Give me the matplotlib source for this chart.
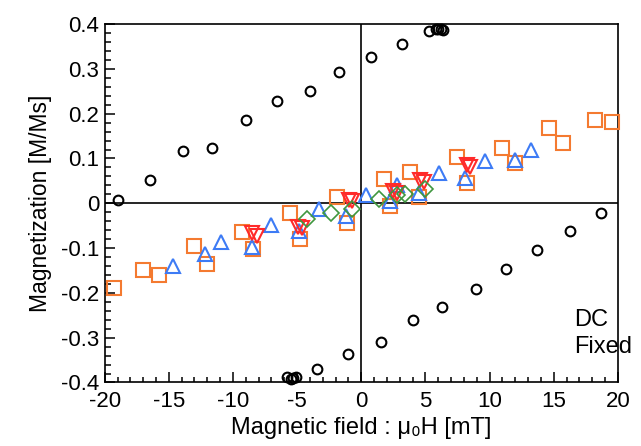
import matplotlib
matplotlib.use("Agg")
import matplotlib.pyplot as plt
from matplotlib.ticker import MultipleLocator

plt.rcParams['font.family'] = ['Liberation Sans', 'DejaVu Sans']
plt.rcParams['axes.unicode_minus'] = False

# DC fixed data
circ_x = [-19.0, -16.5, -13.9, -11.6, -9.0, -6.6, -4.0, -1.7, 0.75, 3.2, 5.3, 5.8, 6.0, 6.2, 6.4,
          -5.8, -5.5, -5.3, -5.1, -3.45, -1.0, 1.5, 4.0, 6.3, 8.95, 11.3, 13.7, 16.3, 18.7]
circ_y = [0.008, 0.053, 0.117, 0.123, 0.187, 0.228, 0.25, 0.292, 0.327, 0.356, 0.384, 0.388, 0.39, 0.389, 0.387,
          -0.388, -0.392, -0.39, -0.388, -0.37, -0.337, -0.309, -0.261, -0.232, -0.191, -0.147, -0.105, -0.061, -0.022]

sq_x = [-19.3, -17.0, -15.75, -13.05, -12.06, -9.3, -8.43, -5.58, -4.75, -1.9, -1.1,
        1.8, 2.26, 3.76, 4.5, 7.45, 8.2, 11.0, 11.97, 14.65, 15.75, 18.2, 19.5]
sq_y = [-0.19, -0.149, -0.159, -0.095, -0.135, -0.064, -0.103, -0.022, -0.079, 0.013, -0.043,
        0.054, -0.006, 0.07, 0.015, 0.103, 0.046, 0.124, 0.091, 0.168, 0.134, 0.187, 0.181]

tri_x = [-14.7, -12.2, -10.9, -8.5, -7.0, -4.85, -3.27, -1.19, 0.38, 2.26, 2.78, 4.46,
         6.07, 8.1, 9.65, 11.98, 13.2]
tri_y = [-0.14, -0.113, -0.086, -0.097, -0.049, -0.061, -0.013, -0.028, 0.018, 0.006, 0.041, 0.022,
         0.068, 0.057, 0.094, 0.097, 0.119]

inv_x = [-8.5, -8.1, -4.9, -4.6, -0.95, -0.7, 2.5, 2.8, 4.55, 4.85, 8.2, 8.5]
inv_y = [-0.066, -0.072, -0.052, -0.056, 0.008, 0.004, 0.028, 0.024, 0.052, 0.048, 0.086, 0.082]

dia_x = [-4.2, -2.4, -0.7, 1.4, 2.8, 3.4, 5.0]
dia_y = [-0.036, -0.021, -0.013, 0.01, 0.019, 0.02, 0.033]

xticks = [-20, -15, -10, -5, 0, 5, 10, 15, 20]
xtick_labels = ['-20', '-15', '-10', '-5', '0', '5', '10', '15', '20']
yticks = [-0.4, -0.3, -0.2, -0.1, 0, 0.1, 0.2, 0.3, 0.4]
ytick_labels = ['-0.4', '-0.3', '-0.2', '-0.1', '0', '0.1', '0.2', '0.3', '0.4']

fig = plt.figure(figsize=(6.41, 4.46), dpi=100)
ax = fig.add_axes([0.1633, 0.1424, 0.8007, 0.8036])

ax.axhline(0, color='black', lw=1.2, zorder=1)
ax.axvline(0, color='black', lw=1.2, zorder=1)

ax.plot(circ_x, circ_y, 'o', ms=7, mfc='none', mec='black', mew=1.5, clip_on=False, zorder=3)
ax.plot(sq_x, sq_y, 's', ms=9.5, mfc='none', mec='#F47A30', mew=1.5, clip_on=False, zorder=3)
ax.plot(tri_x, tri_y, '^', ms=10.5, mfc='none', mec='#3D7BF5', mew=1.5, zorder=3)
ax.plot(inv_x, inv_y, 'v', ms=10.5, mfc='none', mec='#FF2A2A', mew=1.5, zorder=3)
ax.plot(dia_x, dia_y, 'D', ms=8.5, mfc='none', mec='#3F973F', mew=1.2, zorder=3)

ax.set_xlim(-20, 20)
ax.set_ylim(-0.4, 0.4)
ax.set_xticks(xticks)
ax.set_xticklabels(xtick_labels)
ax.set_yticks(yticks)
ax.set_yticklabels(ytick_labels)
ax.xaxis.set_minor_locator(MultipleLocator(1))
ax.yaxis.set_minor_locator(MultipleLocator(0.02))
ax.tick_params(axis='both', which='both', direction='in', top=False, right=False,
               labelsize=16, width=1.1, colors='black')
ax.tick_params(axis='x', which='major', length=7, pad=6)
ax.tick_params(axis='x', which='minor', length=3.5)
ax.tick_params(axis='y', which='major', length=7, pad=4)
ax.tick_params(axis='y', which='minor', length=4.5)
for s in ax.spines.values():
    s.set_linewidth(1.2)

ax.set_xlabel('Magnetic field : \u03bc\u2080H [mT]', fontsize=17, labelpad=4)
ax.set_ylabel('Magnetization [M/Ms]', fontsize=16.5, labelpad=6)

ax.text(16.6, -0.29, 'DC\nFixed', fontsize=17, ha='left', va='center', linespacing=1.3)

fig.savefig('out.png', dpi=100)
plt.close(fig)
